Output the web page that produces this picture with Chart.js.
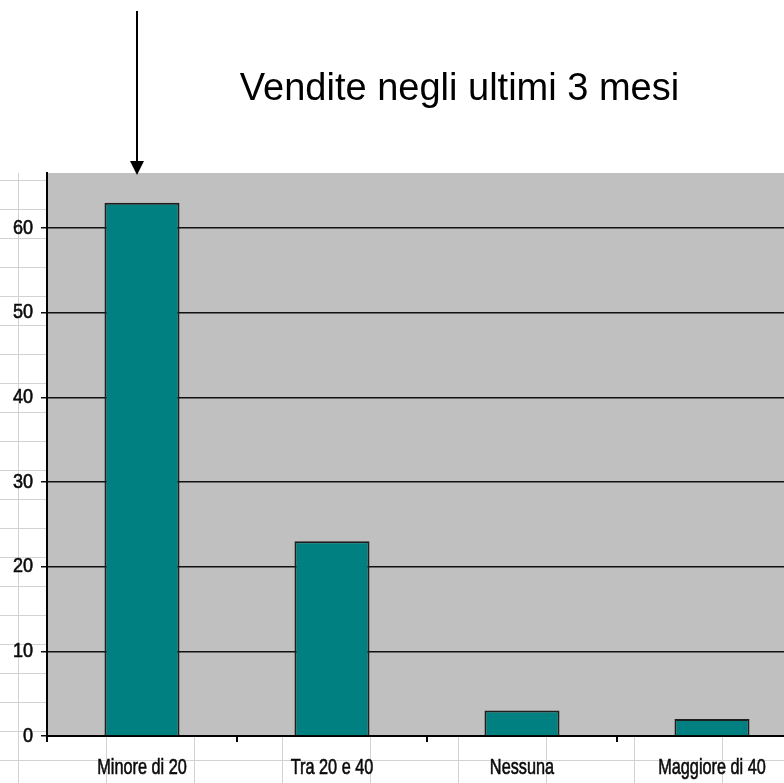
<!DOCTYPE html>
<html>
<head>
<meta charset="utf-8">
<script src="https://cdn.jsdelivr.net/npm/chart.js@4"></script>
<style>
    html, body { margin: 0; padding: 0; background: #fff; overflow: hidden; }
    #wrap { position: relative; width: 860px; height: 783px; }
    /* celle del foglio sotto il grafico */
    #sheet {
        position: absolute; top: 173px; left: 0; width: 860px; bottom: 0;
        background-image:
            linear-gradient(to right, #d2d2d2 1px, transparent 1px),
            linear-gradient(to bottom, #d2d2d2 1px, transparent 1px);
        background-size: 88px 29px;
        background-position: 18px 7px;
    }
    canvas { position: absolute; top: 0; left: 0; }
</style>
</head>
<body>
<div id="wrap">
    <div id="sheet"></div>
    <canvas id="vendite" width="860" height="783"></canvas>
</div>
<script>
const categorie = ['Minore di 20', 'Tra 20 e 40', 'Nessuna', 'Maggiore di 40'];
const vendite = [63, 23, 3, 2];
const titolo = 'Vendite negli ultimi 3 mesi';
const yMax = 66.5;
const yStep = 10;

const sans = "'Liberation Sans', Arial, sans-serif";

// testo "stretto" come Arial Narrow (non installato): scala orizzontale
function narrowText(ctx, text, x, y, size, sx, align) {
    ctx.save();
    ctx.font = size + 'px ' + sans;
    ctx.fillStyle = '#0a0a0a';
    ctx.strokeStyle = '#0a0a0a';
    ctx.lineWidth = 0.6;
    ctx.textAlign = align;
    ctx.textBaseline = 'middle';
    ctx.translate(x, y);
    ctx.scale(sx, 1);
    ctx.fillText(text, 0, 0);
    ctx.strokeText(text, 0, 0);
    ctx.restore();
}

// sfondo grigio dell'area del grafico + etichette + titolo + freccia
const decor = {
    id: 'decor',
    beforeDraw(chart) {
        const a = chart.chartArea;
        const ctx = chart.ctx;
        ctx.save();
        ctx.fillStyle = '#c0c0c0';
        ctx.fillRect(a.left, a.top, a.right - a.left, a.bottom - a.top);
        ctx.restore();
    },
    afterDraw(chart) {
        const ctx = chart.ctx;
        const a = chart.chartArea;
        const xs = chart.scales.x;
        const ys = chart.scales.y;

        ys.ticks.forEach(t => {
            narrowText(ctx, String(t.value), ys.right - 14, ys.getPixelForValue(t.value), 21, 0.86, 'right');
        });
        categorie.forEach((c, i) => {
            narrowText(ctx, c, xs.getPixelForValue(i), a.bottom + 32, 22, 0.74, 'center');
        });

        ctx.save();
        ctx.fillStyle = '#000';
        ctx.font = '38px ' + sans;
        ctx.textAlign = 'center';
        ctx.textBaseline = 'alphabetic';
        ctx.fillText(titolo, 459.5, 100);

        const x = Math.round(xs.getPixelForValue(0)) - 5;
        const tip = a.top + 2;
        ctx.strokeStyle = '#000';
        ctx.lineWidth = 2;
        ctx.beginPath();
        ctx.moveTo(x, 11);
        ctx.lineTo(x, tip - 12);
        ctx.stroke();
        ctx.beginPath();
        ctx.moveTo(x - 7, tip - 14);
        ctx.lineTo(x + 7, tip - 14);
        ctx.lineTo(x, tip);
        ctx.closePath();
        ctx.fill();
        ctx.restore();
    }
};

const ctx = document.getElementById('vendite').getContext('2d');
const chart = new Chart(ctx, {
    type: 'bar',
    data: {
        labels: categorie,
        datasets: [{
            data: vendite,
            backgroundColor: '#008080',
            borderColor: '#1e1e1e',
            borderWidth: 2,
            categoryPercentage: 1,
            barPercentage: 0.395
        }]
    },
    options: {
        responsive: false,
        animation: false,
        layout: { padding: { top: 173, right: 53, left: 0, bottom: 0 } },
        plugins: {
            legend: { display: false },
            tooltip: { enabled: false }
        },
        scales: {
            x: {
                afterFit(s) { s.height = 47; },
                border: { color: '#000', width: 2 },
                grid: {
                    drawOnChartArea: false,
                    drawTicks: true,
                    tickLength: 6,
                    color: '#000',
                    lineWidth: 2
                },
                ticks: { display: false }
            },
            y: {
                min: 0,
                max: yMax,
                afterFit(s) { s.width = 47; },
                afterBuildTicks(s) {
                    s.ticks = s.ticks.filter(t => t.value % yStep === 0);
                },
                border: { color: '#000', width: 2 },
                grid: {
                    color: '#111',
                    lineWidth: 1.5,
                    tickLength: 6
                },
                ticks: { stepSize: yStep, display: false }
            }
        }
    },
    plugins: [decor]
});
</script>
</body>
</html>
